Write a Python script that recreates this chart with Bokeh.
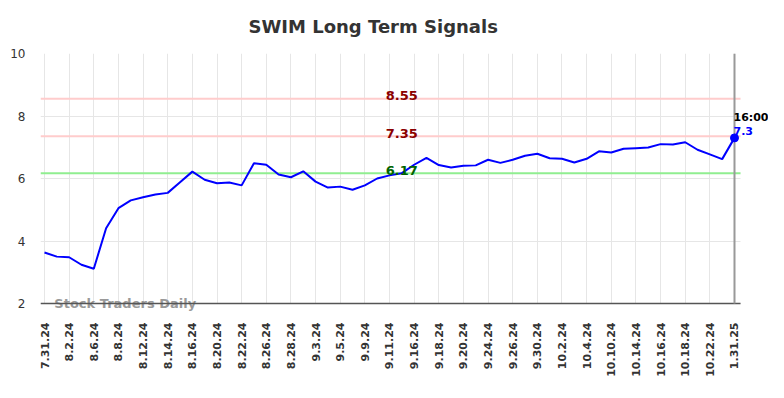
import math
from bokeh.plotting import figure
from bokeh.models import Range1d, FixedTicker, Label
from bokeh.core.properties import value
from bokeh.embed import file_html
from bokeh.resources import INLINE

dates = ["7.31.24", "8.1.24", "8.2.24", "8.5.24", "8.6.24", "8.7.24", "8.8.24", "8.9.24",
         "8.12.24", "8.13.24", "8.14.24", "8.15.24", "8.16.24", "8.19.24", "8.20.24", "8.21.24",
         "8.22.24", "8.23.24", "8.26.24", "8.27.24", "8.28.24", "8.29.24", "9.3.24", "9.4.24",
         "9.5.24", "9.6.24", "9.9.24", "9.10.24", "9.11.24", "9.12.24", "9.16.24", "9.17.24",
         "9.18.24", "9.19.24", "9.20.24", "9.23.24", "9.24.24", "9.25.24", "9.26.24", "9.27.24",
         "9.30.24", "10.1.24", "10.2.24", "10.3.24", "10.4.24", "10.7.24", "10.10.24", "10.11.24",
         "10.14.24", "10.15.24", "10.16.24", "10.17.24", "10.18.24", "10.21.24", "10.22.24",
         "10.23.24", "1.31.25"]
prices = [3.63, 3.50, 3.48, 3.24, 3.11, 4.41, 5.05, 5.30, 5.40, 5.49, 5.54, 5.88, 6.22, 5.96,
          5.85, 5.87, 5.78, 6.49, 6.44, 6.13, 6.04, 6.23, 5.90, 5.71, 5.74, 5.64, 5.78, 6.00,
          6.10, 6.17, 6.44, 6.66, 6.43, 6.35, 6.41, 6.42, 6.60, 6.50, 6.60, 6.73, 6.79, 6.65,
          6.63, 6.51, 6.63, 6.87, 6.83, 6.95, 6.97, 6.99, 7.10, 7.09, 7.16, 6.92, 6.77, 6.62, 7.3]
levels = [8.55, 7.35, 6.17]
level_line_colors = ["#ffcccc", "#ffcccc", "#90ee90"]
level_text_colors = ["#8b0000", "#8b0000", "#006400"]
last_time = "16:00"
y_ticks = [2, 4, 6, 8, 10]

xs = list(range(len(dates)))
n = len(dates)
y_lo, y_hi = y_ticks[0], y_ticks[-1]
x_start = -0.325
x_vis_end = n - 1 + 0.49      # where axis / grid visually end
x_end = n - 1 + 2.76          # extra room on the right for the last-value labels
y_start = y_lo - 0.288        # extra room below the axis for the watermark

p = figure(width=768, height=382, output_backend="svg", toolbar_location=None,
           x_range=Range1d(x_start, x_end), y_range=Range1d(y_start, y_hi),
           min_border_left=40, min_border_right=0, min_border_top=53, min_border_bottom=70,
           title="SWIM Long Term Signals")
p.outline_line_color = None
p.title.align = "left"
p.title.offset = 208
p.title.vertical_align = "top"
p.title.standoff = 29
p.title.text_font = "DejaVu Sans"
p.title.text_font_size = "18px"
p.title.text_font_style = "bold"
p.title.text_color = "#333333"

tick_idx = list(range(0, n, 2))
p.xaxis.ticker = FixedTicker(ticks=tick_idx)
p.xaxis.major_label_overrides = {i: dates[i] for i in tick_idx}
p.xaxis.major_label_orientation = math.pi / 2
p.xaxis.major_label_text_font = "DejaVu Sans"
p.xaxis.major_label_text_font_size = "11px"
p.xaxis.major_label_text_font_style = "bold"
p.xaxis.major_label_text_color = "#333333"
p.xaxis.major_tick_out = 0
p.xaxis.major_tick_in = 0
p.xaxis.major_label_standoff = 10
p.xaxis.major_tick_line_color = None
p.xaxis.minor_tick_line_color = None
p.xaxis.axis_line_color = None

p.yaxis.ticker = FixedTicker(ticks=y_ticks)
p.yaxis.major_label_text_font = "DejaVu Sans"
p.yaxis.major_label_text_font_size = "12px"
p.yaxis.major_label_text_color = "#333333"
p.yaxis.major_tick_out = 0
p.yaxis.major_tick_in = 0
p.yaxis.major_label_standoff = 15
p.yaxis.major_tick_line_color = None
p.yaxis.minor_tick_line_color = None
p.yaxis.axis_line_color = None

p.xgrid.grid_line_color = "#e6e6e6"
p.ygrid.grid_line_color = "#e6e6e6"
p.ygrid.cross_bounds = (x_start, x_vis_end)
p.xgrid.cross_bounds = (y_lo, y_hi)

# watermark (drawn first so the axis line passes over it)
p.text(x=[0.8], y=[y_lo], text=["Stock Traders Daily"], text_align="left",
       text_baseline="middle", text_color="#999999",
       text_font=value("DejaVu Sans"), text_font_size="13px", text_font_style="bold")

# resistance / support levels
p.segment(x0=[x_start] * len(levels), y0=levels, x1=[x_vis_end] * len(levels), y1=levels,
          line_color=level_line_colors, line_width=2)
for lv, tc in zip(levels, level_text_colors):
    p.add_layout(Label(x=29, y=lv, text=f"{lv:.2f}", text_align="center",
                       text_baseline="alphabetic", y_offset=3, text_color=tc,
                       text_font="DejaVu Sans", text_font_size="13px",
                       text_font_style="bold"))

# x axis line and last-point marker line
p.segment(x0=[x_start], y0=[y_lo], x1=[x_vis_end], y1=[y_lo], line_color="#555555", line_width=1.5)
p.segment(x0=[n - 1], y0=[y_lo], x1=[n - 1], y1=[y_hi], line_color="#999999", line_width=2)

p.line(xs, prices, line_color="#0000ff", line_width=2)
p.scatter([xs[-1]], [prices[-1]], size=8, color="#0000ff")

p.add_layout(Label(x=n - 1, y=prices[-1], text=last_time, text_align="left",
                   text_baseline="alphabetic", x_offset=-1, y_offset=20, text_color="#000000",
                   text_font="DejaVu Sans", text_font_size="11px", text_font_style="bold"))
p.add_layout(Label(x=n - 1, y=prices[-1], text=f"{prices[-1]}", text_align="left",
                   text_baseline="alphabetic", x_offset=-1, y_offset=7, text_color="#0000ff",
                   text_font="DejaVu Sans", text_font_size="11px", text_font_style="bold"))

open("out.html", "w").write(file_html(p, INLINE))
